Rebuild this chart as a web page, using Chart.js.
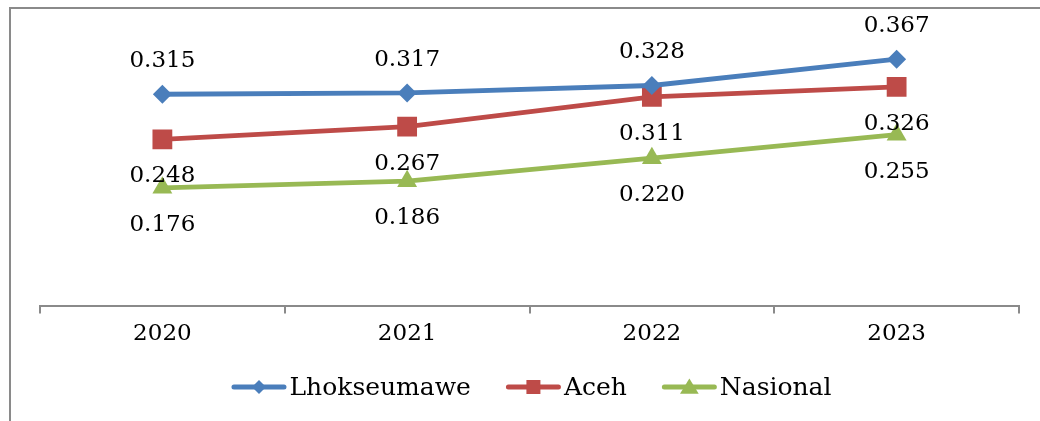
<!DOCTYPE html>
<html><head><meta charset="utf-8">
<script src="https://cdn.jsdelivr.net/npm/chart.js@4.4.0/dist/chart.umd.min.js"></script>
<style>html,body{margin:0;padding:0;background:#fff;overflow:hidden}</style>
</head><body><canvas id="c" width="1040" height="421" style="display:block;width:1040px;height:421px"></canvas>
<script>
const categories = ['2020', '2021', '2022', '2023'];
const lhokseumawe = [0.315, 0.317, 0.328, 0.367];
const aceh = [0.248, 0.267, 0.311, 0.326];
const nasional = [0.176, 0.186, 0.220, 0.255];
const seriesNames = ['Lhokseumawe', 'Aceh', 'Nasional'];

const FONT = '"DejaVu Serif", "Liberation Serif", serif';

const framePlugin = {
  id: 'frame',
  beforeDraw(chart) {
    const ctx = chart.ctx;
    ctx.save();
    ctx.fillStyle = '#fff';
    ctx.fillRect(0, 0, chart.width, chart.height);
    ctx.strokeStyle = '#8a8a8a';
    ctx.lineWidth = 2;
    ctx.beginPath();
    ctx.moveTo(10, chart.height);
    ctx.lineTo(10, 8);
    ctx.lineTo(chart.width, 8);
    ctx.stroke();
    ctx.restore();
  }
};

const dataLabelPlugin = {
  id: 'dataLabels',
  afterDatasetsDraw(chart) {
    const ctx = chart.ctx;
    ctx.save();
    ctx.font = '23px ' + FONT;
    ctx.fillStyle = '#000';
    ctx.textAlign = 'center';
    ctx.textBaseline = 'middle';
    chart.data.datasets.forEach((ds, i) => {
      const meta = chart.getDatasetMeta(i);
      meta.data.forEach((pt, j) => {
        const off = ds.labelPos === 'above' ? -33 : 37;
        ctx.fillText(ds.data[j].toFixed(3), pt.x, pt.y + off);
      });
    });
    ctx.restore();
  }
};

function drawMarker(ctx, style, x, y, r, color) {
  ctx.fillStyle = color;
  ctx.beginPath();
  if (style === 'rectRot') {
    ctx.moveTo(x, y - r); ctx.lineTo(x + r, y); ctx.lineTo(x, y + r); ctx.lineTo(x - r, y);
  } else if (style === 'rect') {
    ctx.rect(x - r, y - r, 2 * r, 2 * r);
  } else {
    ctx.moveTo(x, y - r); ctx.lineTo(x + r * 1.1, y + r * 0.8); ctx.lineTo(x - r * 1.1, y + r * 0.8);
  }
  ctx.closePath();
  ctx.fill();
}

const legendPlugin = {
  id: 'customLegend',
  afterDraw(chart) {
    const ctx = chart.ctx;
    ctx.save();
    ctx.font = '25px ' + FONT;
    const lineW = 55, gapText = 3, gapItem = 35;
    const items = chart.data.datasets.map(ds => ({ ds, w: lineW + gapText + ctx.measureText(ds.label).width }));
    const total = items.reduce((s, it) => s + it.w, 0) + gapItem * (items.length - 1);
    let x = 531.5 - total / 2;
    const y = 387;
    items.forEach(it => {
      const ds = it.ds;
      ctx.strokeStyle = ds.borderColor;
      ctx.lineWidth = 5;
      ctx.lineCap = 'round';
      ctx.beginPath();
      ctx.moveTo(x + 2.5, y); ctx.lineTo(x + lineW - 2.5, y);
      ctx.stroke();
      drawMarker(ctx, ds.pointStyle, x + lineW / 2, y, ds.legendR, ds.backgroundColor);
      ctx.fillStyle = '#000';
      ctx.textAlign = 'left';
      ctx.textBaseline = 'middle';
      ctx.fillText(ds.label, x + lineW + gapText, y + 1);
      x += it.w + gapItem;
    });
    ctx.restore();
  }
};

new Chart(document.getElementById('c'), {
  type: 'line',
  data: {
    labels: categories,
    datasets: [
      { label: seriesNames[0], data: lhokseumawe, borderColor: '#4a7ebb', backgroundColor: '#4a7ebb',
        pointStyle: 'rectRot', pointRadius: 9.5, labelPos: 'above', legendR: 7 },
      { label: seriesNames[1], data: aceh, borderColor: '#be4b48', backgroundColor: '#be4b48',
        pointStyle: 'rect', pointRadius: 14, labelPos: 'below', legendR: 7 },
      { label: seriesNames[2], data: nasional, borderColor: '#98b954', backgroundColor: '#98b954',
        pointStyle: 'triangle', pointRadius: 11.5, labelPos: 'below', legendR: 8.5 }
    ].map(d => Object.assign({ borderWidth: 4.8, tension: 0, pointBorderWidth: 0, pointHoverRadius: d.pointRadius,
      pointBackgroundColor: d.backgroundColor, pointBorderColor: d.backgroundColor, fill: false }, d))
  },
  options: {
    responsive: false,
    animation: false,
    events: [],
    layout: { padding: { left: 40, right: 21, top: 37, bottom: 66 } },
    plugins: { legend: { display: false }, tooltip: { enabled: false } },
    scales: {
      x: {
        offset: true,
        grid: { display: true, drawOnChartArea: false, drawTicks: true, tickLength: 7, color: '#8a8a8a', lineWidth: 2, offset: true },
        border: { display: true, color: '#8a8a8a', width: 2 },
        ticks: { color: '#000', font: { family: FONT, size: 23 }, padding: 7, maxRotation: 0 }
      },
      y: { display: false, min: 0, max: 0.4 }
    }
  },
  plugins: [framePlugin, dataLabelPlugin, legendPlugin]
});
</script>
</body></html>
